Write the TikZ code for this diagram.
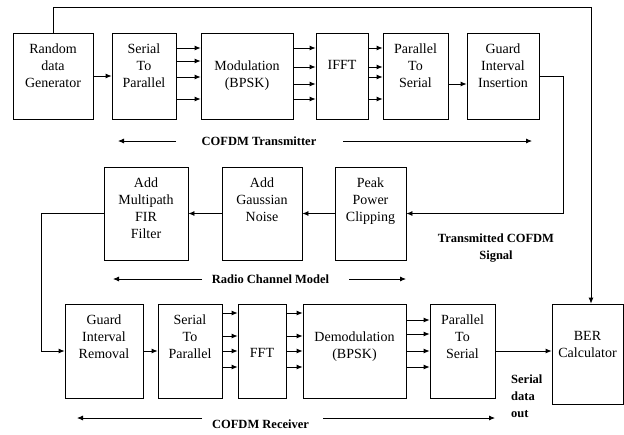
\documentclass[tikz,border=0pt]{standalone}
\usepackage{fontspec}
\setmainfont{Liberation Serif}
\usetikzlibrary{arrows.meta}
\tikzstyle{blk}=[draw, line width=0.8pt, inner sep=0pt, minimum height=86pt]
\tikzstyle{txt}=[font=\fontsize{14}{17}\selectfont, align=center, inner sep=0pt, anchor=north, yshift=-10.5pt]
\tikzstyle{lbl}=[font=\fontsize{12.5}{17}\selectfont\bfseries, align=center, inner sep=0pt]
\tikzstyle{arr}=[line width=0.8pt, -{Latex[length=6pt,width=5pt]}]

\begin{document}
\begin{tikzpicture}[x=1pt, y=-1pt]
	\useasboundingbox (0,0) rectangle (624,434);
	\node[blk, minimum width=80pt] (rdg) at (53,76) {};
	\node[blk, minimum width=64pt] (s2p) at (144,76) {};
	\node[blk, minimum width=92pt] (mod) at (247,76) {};
	\node[blk, minimum width=52pt] (ifft) at (342,76) {};
	\node[blk, minimum width=65pt] (p2s) at (415.5,76) {};
	\node[blk, minimum width=72pt] (gii) at (503,76) {};
	\node[txt] (rdg-t) at (rdg.north) {Random\\data\\Generator};
	\node[txt] (s2p-t) at (s2p.north) {Serial\\To\\Parallel};
	\node[txt, yshift=-17pt] (mod-t) at (mod.north) {Modulation\\(BPSK)};
	\node[txt, yshift=-17pt] (ifft-t) at (ifft.north) {IFFT};
	\node[txt] (p2s-t) at (p2s.north) {Parallel\\To\\Serial};
	\node[txt] (gii-t) at (gii.north) {Guard\\Interval\\Insertion};

	\node[blk, minimum width=84pt, minimum height=93pt] (mfir) at (146,213.5) {};
	\node[blk, minimum width=80pt, minimum height=93pt] (awgn) at (262,213.5) {};
	\node[blk, minimum width=71pt, minimum height=93pt] (peak) at (370.5,213.5) {};
	\node[txt] (mfir-t) at (mfir.north) {Add\\Multipath\\FIR\\Filter};
	\node[txt] (awgn-t) at (awgn.north) {Add\\Gaussian\\Noise};
	\node[txt] (peak-t) at (peak.north) {Peak\\Power\\Clipping};

	\node[blk, minimum width=78pt, minimum height=94pt] (gir) at (104,351) {};
	\node[blk, minimum width=64pt, minimum height=94pt] (s2pr) at (190,351) {};
	\node[blk, minimum width=48pt, minimum height=94pt] (fft) at (262,351) {};
	\node[blk, minimum width=103pt, minimum height=94pt] (dem) at (354.5,351) {};
	\node[blk, minimum width=65pt, minimum height=94pt] (p2sr) at (462.5,351) {};
	\node[blk, minimum width=71pt, minimum height=100pt] (ber) at (587.5,354) {};
	\node[txt] (gir-t) at (gir.north) {Guard\\Interval\\Removal};
	\node[txt] (s2pr-t) at (s2pr.north) {Serial\\To\\Parallel};
	\node[txt, yshift=-34pt] (fft-t) at (fft.north) {FFT};
	\node[txt, yshift=-17pt] (dem-t) at (dem.north) {Demodulation\\(BPSK)};
	\node[txt] (p2sr-t) at (p2sr.north) {Parallel\\To\\Serial};
	\node[txt, yshift=-17pt] (ber-t) at (ber.north) {BER\\Calculator};

	\draw[arr] (rdg.east) -- (s2p.west);
	\foreach \y in {48,61,77,99}
		\draw[arr] (s2p.east |- 0,\y) -- (mod.west |- 0,\y);
	\foreach \y in {48,67,84,99}
		\draw[arr] (mod.east |- 0,\y) -- (ifft.west |- 0,\y);
	\foreach \y in {48,67,77,99}
		\draw[arr] (ifft.east |- 0,\y) -- (p2s.west |- 0,\y);
	\draw[arr] (p2s.east |- 0,84) -- (gii.west |- 0,84);
	\draw[arr] (gii.east) -- ++(24,0) |- (peak.east);
	\draw[arr] (peak.west) -- (awgn.east);
	\draw[arr] (awgn.west) -- (mfir.east);
	\draw[arr] (mfir.west) -- ++(-62,0) |- (gir.west);
	\draw[arr] (gir.east) -- (s2pr.west);
	\foreach \y in {313,336,351,367}
		\draw[arr] (s2pr.east |- 0,\y) -- (fft.west |- 0,\y);
	\foreach \y in {313,336,351,367}
		\draw[arr] (fft.east |- 0,\y) -- (dem.west |- 0,\y);
	\foreach \y in {320,334,351,367}
		\draw[arr] (dem.east |- 0,\y) -- (p2sr.west |- 0,\y);
	\draw[arr] (p2sr.east) -- (ber.west |- p2sr.east);
	\draw[arr] (rdg.north) -- (rdg.north |- 0,7) -| ([xshift=3.5pt]ber.north);

	\node[lbl] (tx) at (259,141) {COFDM Transmitter};
	\draw[arr] ([xshift=-83pt]tx.center) -- ([xshift=-141pt]tx.center);
	\draw[arr] ([xshift=84pt]tx.center) -- ([xshift=273pt]tx.center);
	\node[lbl] (rcm) at (270.5,279) {Radio Channel Model};
	\draw[arr] ([xshift=-68.5pt]rcm.center) -- ([xshift=-157.5pt]rcm.center);
	\draw[arr] ([xshift=78.5pt]rcm.center) -- ([xshift=135.5pt]rcm.center);
	\node[lbl] (rx) at (260.5,424) {COFDM Receiver};
	\draw[arr] ([xshift=-58.5pt,yshift=6pt]rx.center) -- ([xshift=-183.5pt,yshift=6pt]rx.center);
	\draw[arr] ([xshift=62.5pt,yshift=6pt]rx.center) -- ([xshift=234.5pt,yshift=6pt]rx.center);
	\node[lbl] (tcs) at (496,248.5) {Transmitted COFDM\\Signal};
	\node[lbl, align=left, anchor=west] (sdo) at (511,396) {Serial\\data\\out};
\end{tikzpicture}
\end{document}
